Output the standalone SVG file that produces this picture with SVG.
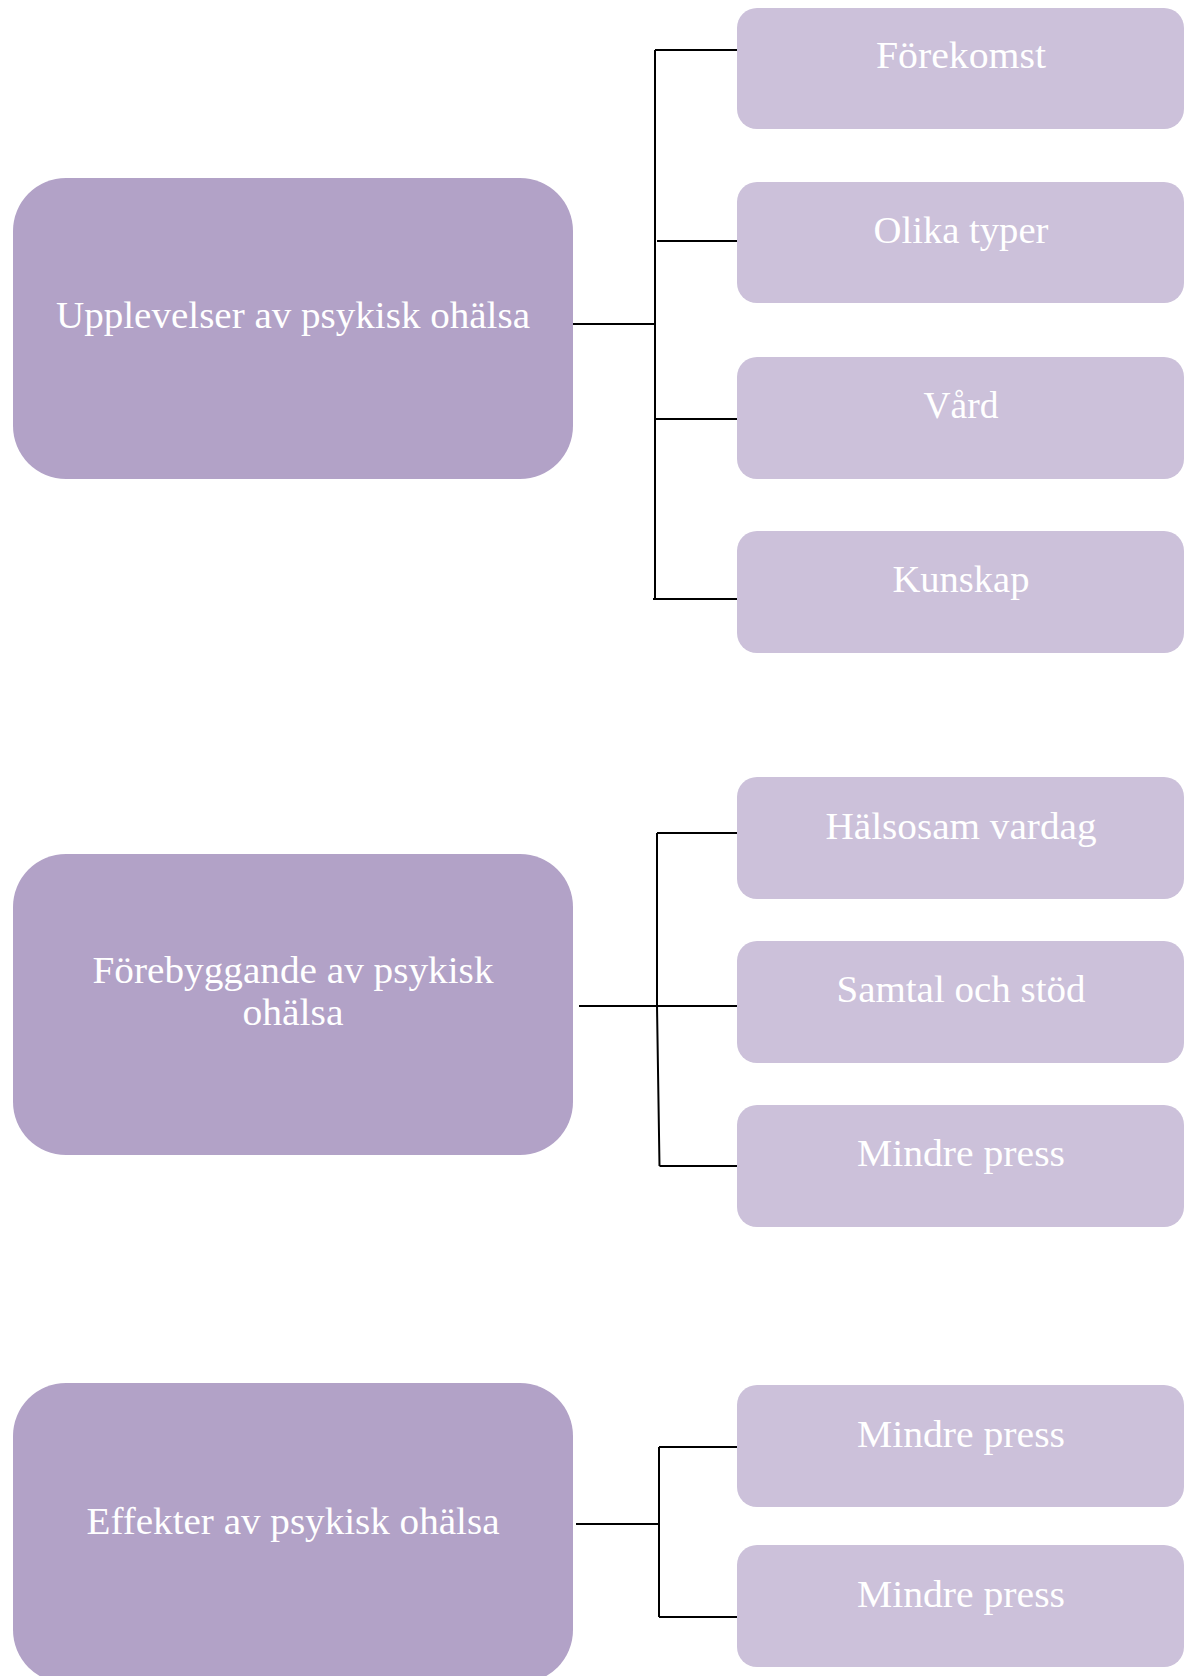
<svg xmlns="http://www.w3.org/2000/svg" width="1184" height="1676" viewBox="0 0 1184 1676">
<style>
.big{fill:#b2a2c7}
.small{fill:#ccc1da}
.t{fill:#ffffff;font-family:"Liberation Serif","Times New Roman",serif;font-size:38px;text-anchor:middle}
.c{stroke:#000000;stroke-width:2;fill:none}
</style>
<rect width="1184" height="1676" fill="#ffffff"/>
<g id="connectors">
<path class="c" d="M573 324H655M655 50V599M655 50H737M657 241H737M655 419H737M653 599H737"/>
<path class="c" d="M579 1006H657M657 833V1006L659.5 1166M657 833H737M657 1006H737M659.5 1166H737"/>
<path class="c" d="M576 1524H659M659 1447V1617M659 1447H738M659 1617H738"/>
</g>
<g id="n-upplevelser"><rect class="big" x="13" y="178" width="560" height="301" rx="53"/><text class="t" x="293" y="328" textLength="474" lengthAdjust="spacingAndGlyphs">Upplevelser av psykisk ohälsa</text></g>
<g id="n-forekomst"><rect class="small" x="737" y="8" width="447" height="121" rx="20"/><text class="t" x="961" y="68" textLength="170" lengthAdjust="spacingAndGlyphs">Förekomst</text></g>
<g id="n-olika"><rect class="small" x="737" y="182" width="447" height="121" rx="20"/><text class="t" x="961" y="243" textLength="175" lengthAdjust="spacingAndGlyphs">Olika typer</text></g>
<g id="n-vard"><rect class="small" x="737" y="357" width="447" height="122" rx="20"/><text class="t" x="961" y="418" textLength="75" lengthAdjust="spacingAndGlyphs">Vård</text></g>
<g id="n-kunskap"><rect class="small" x="737" y="531" width="447" height="122" rx="20"/><text class="t" x="961" y="592" textLength="137" lengthAdjust="spacingAndGlyphs">Kunskap</text></g>
<g id="n-forebyggande"><rect class="big" x="13" y="854" width="560" height="301" rx="53"/><text class="t" x="293" y="983" textLength="401" lengthAdjust="spacingAndGlyphs">Förebyggande av psykisk</text><text class="t" x="293" y="1025" textLength="101" lengthAdjust="spacingAndGlyphs">ohälsa</text></g>
<g id="n-halsosam"><rect class="small" x="737" y="777" width="447" height="122" rx="20"/><text class="t" x="961" y="839" textLength="271" lengthAdjust="spacingAndGlyphs">Hälsosam vardag</text></g>
<g id="n-samtal"><rect class="small" x="737" y="941" width="447" height="122" rx="20"/><text class="t" x="961" y="1002" textLength="249" lengthAdjust="spacingAndGlyphs">Samtal och stöd</text></g>
<g id="n-mindre1"><rect class="small" x="737" y="1105" width="447" height="122" rx="20"/><text class="t" x="961" y="1166" textLength="208" lengthAdjust="spacingAndGlyphs">Mindre press</text></g>
<g id="n-effekter"><rect class="big" x="13" y="1383" width="560" height="300" rx="53"/><text class="t" x="293" y="1534" textLength="413" lengthAdjust="spacingAndGlyphs">Effekter av psykisk ohälsa</text></g>
<g id="n-mindre2"><rect class="small" x="737" y="1385" width="447" height="122" rx="20"/><text class="t" x="961" y="1447" textLength="208" lengthAdjust="spacingAndGlyphs">Mindre press</text></g>
<g id="n-mindre3"><rect class="small" x="737" y="1545" width="447" height="122" rx="20"/><text class="t" x="961" y="1607" textLength="208" lengthAdjust="spacingAndGlyphs">Mindre press</text></g>
</svg>
